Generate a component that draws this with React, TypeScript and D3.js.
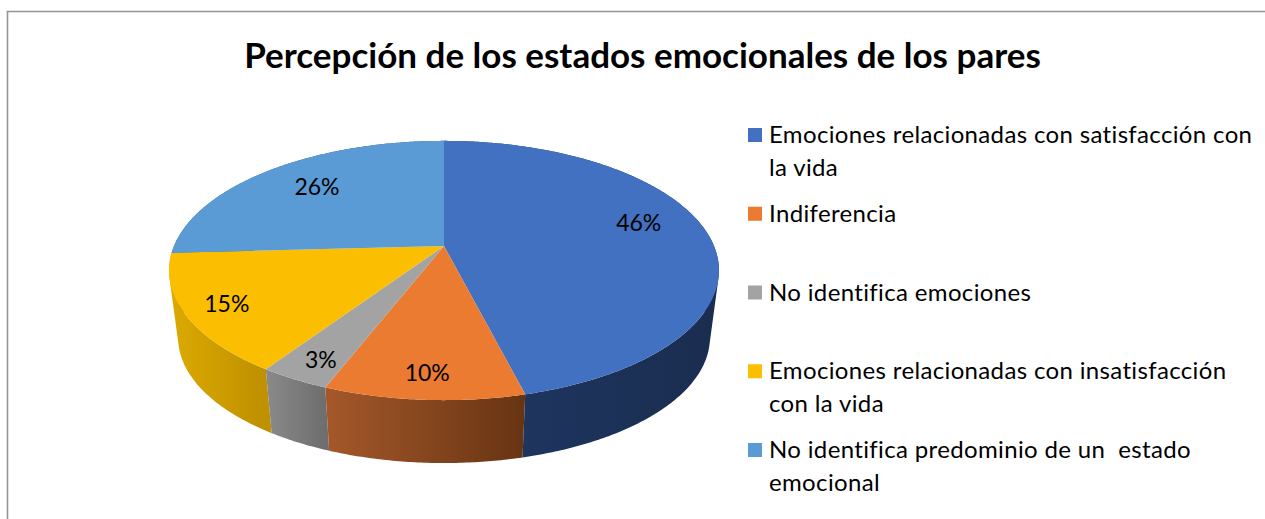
// App.tsx
import React from 'react';
import * as d3 from 'd3';

const title = 'Percepción de los estados emocionales de los pares';

const categories = [
  ['Emociones relacionadas con satisfacción con', 'la vida'],
  ['Indiferencia'],
  ['No identifica emociones'],
  ['Emociones relacionadas con insatisfacción', 'con la vida'],
  ['No identifica predominio de un  estado', 'emocional'],
];
const values = [46.05, 9.85, 3.49, 14.75, 25.86];
const topColors = ['#4171c0', '#ea7b30', '#a3a3a3', '#fbbe00', '#5a9ad5'];
const sideLeftColors = ['#203864', '#a5582a', '#8a8a8a', '#dcaa00', '#3f6f9e'];
const sideRightColors = ['#1a2d50', '#673413', '#6e6e6e', '#bf9000', '#2e5a85'];
// label nudges from the slice centroid
const labelNudge = [[5, -12], [-3, 23], [-21, 23], [-36, 10], [2, -2]];

const width = 1265;
const height = 519;

// pie is a circle seen in perspective: front edge is stretched, back is squeezed
const cx = 444;
const cy = 246;
const rx = 270;
const ry = 125;
const persp = 0.189;
const depth = 68;
const bottomScale = 0.967;

const project = (angle: number, r = 1, scale = 1, dy = 0): [number, number] => {
  const u = r * Math.sin(angle);
  const v = -r * Math.cos(angle);
  const d = 1 - persp * v;
  return [cx + (rx * scale * u) / d, cy + dy + (ry * scale * v) / d];
};

const arcs = d3.pie<number>().sort(null)(values);
const line = d3.line();

const arcPoints = (a: number, b: number, scale = 1, dy = 0) => {
  const n = Math.max(2, Math.ceil(Math.abs(b - a) / 0.01));
  return d3.range(n + 1).map((i) => project(a + ((b - a) * i) / n, 1, scale, dy));
};

// wall as small quads in one path, same winding so the silhouette stays filled
const wallPath = (a: number, b: number) => {
  const top = arcPoints(a, b);
  const bottom = arcPoints(a, b, bottomScale, depth);
  return d3
    .range(top.length - 1)
    .map((i) => {
      const quad = [top[i], top[i + 1], bottom[i + 1], bottom[i]];
      if (d3.polygonArea(quad as [number, number][]) < 0) quad.reverse();
      return line(quad as [number, number][]) + 'Z';
    })
    .join('');
};

const legendY = d3.scaleLinear().domain([0, 4]).range([135, 450]);
const legendLine = 32.5;

export default function App() {
  return (
    <svg
      width={width}
      height={height}
      style={{ position: 'absolute', left: 0, top: 0, background: '#fff' }}
    >
      <defs>
        {arcs.map((a, i) => {
          const xs = arcPoints(a.startAngle, a.endAngle).map((p) => p[0]);
          return (
            <linearGradient
              key={i}
              id={`side${i}`}
              gradientUnits="userSpaceOnUse"
              x1={d3.min(xs)}
              x2={d3.max(xs)}
              y1={0}
              y2={0}
            >
              <stop offset="0" stopColor={sideLeftColors[i]} />
              <stop offset="1" stopColor={sideRightColors[i]} />
            </linearGradient>
          );
        })}
      </defs>

      <path d={`M7.5,${height}V11.5H${width}`} fill="none" stroke="#949494" strokeWidth={1.6} />

      <text
        x={642.5}
        y={68}
        textAnchor="middle"
        fontFamily="Lato"
        fontWeight={700}
        fontSize={35}
        fill="#000"
      >
        {title}
      </text>

      {/* side walls first, last slice at the back so it can't poke over the yellow one */}
      {arcs
        .map((a, i) => (
          <path key={i} d={wallPath(a.startAngle, a.endAngle)} fill={`url(#side${i})`} />
        ))
        .reverse()}

      {arcs.map((a, i) => (
        <path
          key={i}
          d={line([[cx, cy], ...arcPoints(a.startAngle, a.endAngle)]) + 'Z'}
          fill={topColors[i]}
        />
      ))}

      {arcs.map((a, i) => {
        const [x, y] = project((a.startAngle + a.endAngle) / 2, 0.72);
        return (
          <text
            key={i}
            x={x + labelNudge[i][0]}
            y={y + labelNudge[i][1] + 8}
            textAnchor="middle"
            fontFamily="Lato"
            fontSize={23}
            fill="#000"
          >
            {`${Math.round(a.value)}%`}
          </text>
        );
      })}

      {categories.map((lines, i) => (
        <g key={i}>
          <rect x={748} y={legendY(i) - 7} width={14} height={14} fill={topColors[i]} />
          {lines.map((t, j) => (
            <text
              key={j}
              x={769}
              y={legendY(i) + 8 + j * legendLine}
              fontFamily="Lato"
              fontSize={24}
              letterSpacing={0.35}
              fill="#000"
              style={{ whiteSpace: 'pre' }}
            >
              {t}
            </text>
          ))}
        </g>
      ))}
    </svg>
  );
}
